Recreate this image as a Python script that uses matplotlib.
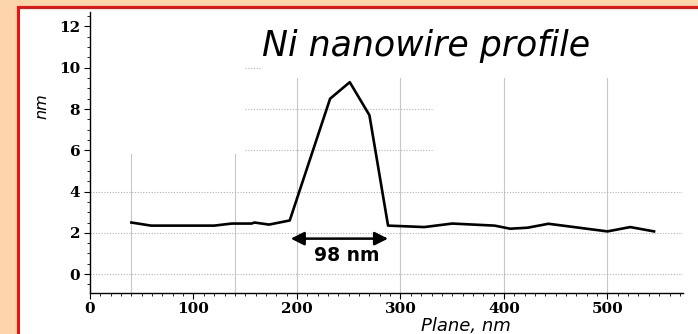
"""Height profile of a Ni nanowire scanned across the plane."""

import matplotlib

matplotlib.use("Agg")
import matplotlib.pyplot as plt
from matplotlib.patches import Rectangle
from matplotlib.ticker import MultipleLocator

# profile samples: position along the plane (nm) and height (nm)
plane_nm = [40, 59, 120, 137, 156, 159, 173, 193, 232, 251, 270, 288,
            323, 350, 391, 406, 423, 443, 500, 522, 545]
height_nm = [2.5, 2.35, 2.35, 2.45, 2.45, 2.5, 2.4, 2.6, 8.5, 9.3, 7.7, 2.35,
             2.28, 2.45, 2.35, 2.2, 2.25, 2.44, 2.07, 2.28, 2.07]

# wire width marker
width_start = 194
width_end = 288
width_label = "98 nm"

x_ticks = [0, 100, 200, 300, 400, 500]
y_ticks = [0, 2, 4, 6, 8, 10, 12]

# grid pieces: (position, lower end, upper end)
vgrid = [(40, -0.9, 5.8), (140, -0.9, 5.8), (200, -0.9, 9.5),
         (300, -0.9, 9.5), (400, -0.9, 9.5), (500, -0.9, 9.5)]
hgrid = [(0, 0, 572), (2, 0, 572), (4, 0, 572), (6, 150, 330),
         (8, 150, 330), (10, 150, 165)]

fig = plt.figure(figsize=(6.98, 3.34), dpi=100, facecolor="#fcd5aa")
fig.patches.append(Rectangle((18 / 698, -0.1), 1, 1.1 - 7 / 334,
                             transform=fig.transFigure, facecolor="white",
                             edgecolor="#ee1111", linewidth=2.2, zorder=-1))

ax = fig.add_axes([90 / 698, 1 - 292.7 / 334, 593 / 698, 280.7 / 334])
ax.set_facecolor("none")
ax.set_xlim(0, 573)
ax.set_ylim(-0.9, 12.7)

for x, lo, hi in vgrid:
    ax.plot([x, x], [lo, hi], color="#c8c8c8", linewidth=0.8, zorder=1)
for y, lo, hi in hgrid:
    ax.plot([lo, hi], [y, y], color="#b0b0b0", linewidth=0.8,
            linestyle=(0, (1, 1.5)), zorder=1)

ax.plot(plane_nm, height_nm, color="black", linewidth=1.9, zorder=3)

ax.annotate("", xy=(width_start, 1.72), xytext=(width_end, 1.72),
            arrowprops=dict(arrowstyle="<|-|>", color="black", lw=1.8,
                            mutation_scale=20, shrinkA=0, shrinkB=0))
ax.text(248, 0.92, width_label, ha="center", va="center", fontsize=13.5,
        fontweight="bold", family="DejaVu Sans")

ax.text(325, 10.55, "Ni nanowire profile", fontsize=25, style="italic",
        family="DejaVu Sans", va="baseline", ha="center")

for side in ("top", "right"):
    ax.spines[side].set_visible(False)
ax.spines["left"].set_linewidth(1.0)
ax.spines["bottom"].set_linewidth(1.0)

ax.set_xticks(x_ticks)
ax.set_yticks(y_ticks)
ax.xaxis.set_minor_locator(MultipleLocator(10))
ax.yaxis.set_minor_locator(MultipleLocator(0.5))
ax.tick_params(which="major", length=4, width=0.8, pad=3, labelsize=11)
ax.tick_params(which="minor", length=2.5, width=0.6)
for label in ax.get_xticklabels() + ax.get_yticklabels():
    label.set_family("DejaVu Serif")
    label.set_fontweight("bold")

ax.set_xlabel("Plane, nm", fontsize=13, style="italic", family="DejaVu Sans")
ax.xaxis.label.set_va("center")
ax.xaxis.set_label_coords(0.634, -0.118)
ax.set_ylabel("nm", fontsize=11.5, style="italic", family="DejaVu Sans")
ax.yaxis.label.set_va("center")
ax.yaxis.set_label_coords(-0.081, 0.665)

fig.savefig("out.png", dpi=100, facecolor=fig.get_facecolor())
